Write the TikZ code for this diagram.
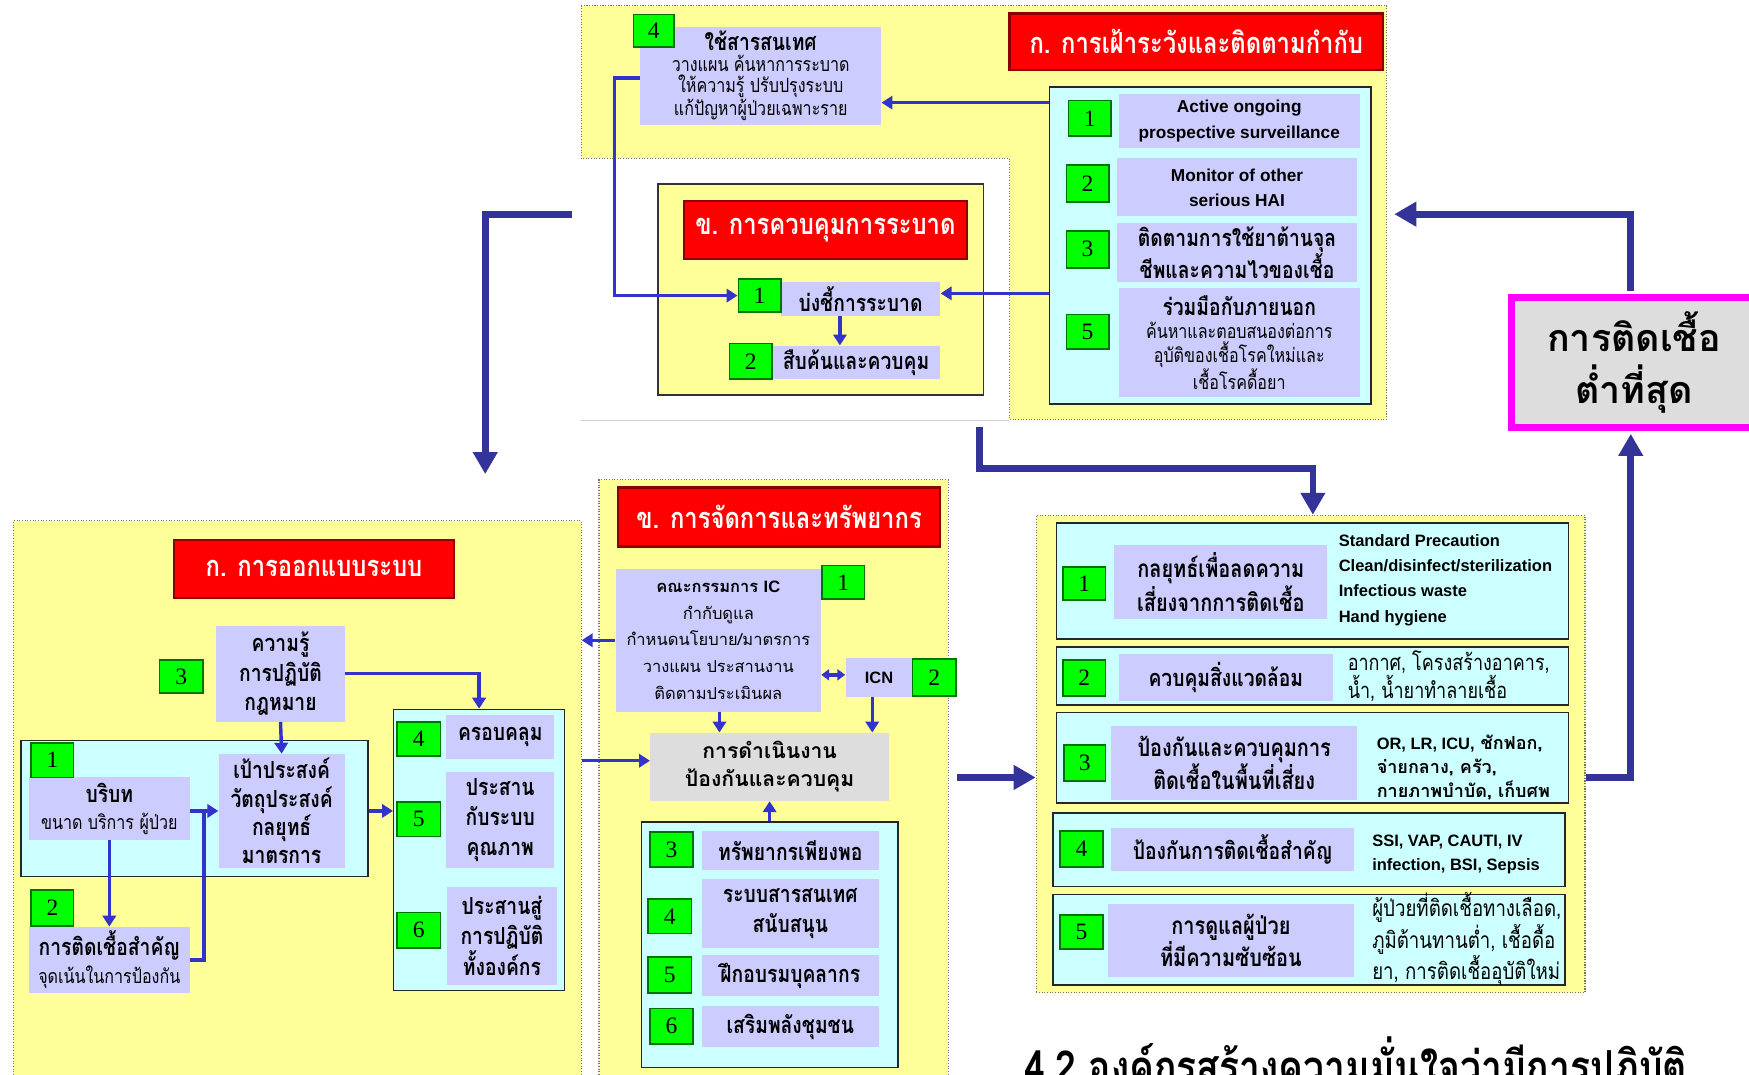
\documentclass[tikz,border=0pt]{standalone}
\usepackage{fontspec}
\setmainfont{Liberation Serif}
\setsansfont{Liberation Sans}
\newfontfamily\thai[Script=Thai,FakeStretch=0.82]{Loma}
\newfontfamily\thaiw[Script=Thai]{Loma}
\usetikzlibrary{arrows.meta,positioning}

\definecolor{pyellow}{HTML}{FFFF99}
\definecolor{pcyan}{HTML}{CCFFFF}
\definecolor{plav}{HTML}{CCCCFF}
\definecolor{pgreen}{HTML}{00FF00}
\definecolor{pred}{HTML}{FF0000}
\definecolor{pblue}{HTML}{3333CC}
\definecolor{pnavy}{HTML}{333399}
\definecolor{pgray}{HTML}{DDDDDD}
\definecolor{pmag}{HTML}{FF00FF}

\begin{document}
\begin{tikzpicture}[
  x=0.025cm, y=-0.025cm,
  cell/.style n args={4}{
    at={({(#1+#3)/2},{(#2+#4)/2})}, anchor=center,
    minimum width={(#3-#1)*0.025cm}, minimum height={(#4-#2)*0.025cm}
  },
  panel/.style={fill=pyellow, draw=black!55, densely dotted, line width=0.7pt, inner sep=0pt},
  cbox/.style={fill=pcyan, draw=black!85, line width=0.9pt, inner sep=0pt},
  lav/.style={
    fill=plav, inner sep=0pt, align=center,
    font=\thai\bfseries\fontsize{15}{19}\selectfont
  },
  lavsub/.style={lav, font=\thai\fontsize{12.5}{15}\selectfont},
  lavlat/.style={lav, font=\sffamily\bfseries\fontsize{11}{16}\selectfont},
  num/.style={
    fill=pgreen, draw=green!45!black, line width=1.1pt, inner sep=0pt,
    font=\rmfamily\fontsize{15}{15}\selectfont
  },
  redt/.style={
    fill=pred, draw=red!55!black, line width=1.5pt, inner sep=0pt,
    text=white, font=\thai\bfseries\fontsize{18.5}{22}\selectfont
  },
  note/.style={anchor=west, align=left, inner sep=0pt},
  conn/.style={-{Triangle[length=7pt,width=8.5pt]}, line width=2.2pt, pblue},
  wire/.style={line width=2.2pt, pblue},
  dconn/.style={{Triangle[length=5pt,width=7pt]}-{Triangle[length=5pt,width=7pt]}, line width=2.2pt, pblue},
  bigarr/.style={-{Triangle[length=14pt,width=15pt]}, line width=4.3pt, pnavy},
]
\useasboundingbox (0,0) rectangle (1568,963);

% surveillance panel (top)
\draw[fill=pyellow, draw=black!55, densely dotted, line width=0.7pt]
  (521,5) -- (1243,5) -- (1243,376) -- (905,376) -- (905,142) -- (521,142) -- cycle;
\draw[black!18, line width=1pt] (521,377) -- (905,377);
\node[redt, cell={905}{12}{1240}{63}] (survT) {ก. การเฝ้าระวังและติดตามกำกับ};
\node[lavsub, cell={574}{24}{790}{112}, font=\thai\fontsize{12.5}{13.5}\selectfont] (info4)
  {{\bfseries\fontsize{15}{15}\selectfont ใช้สารสนเทศ}\\วางแผน ค้นหาการระบาด\\ให้ความรู้ ปรับปรุงระบบ\\แก้ปัญหาผู้ป่วยเฉพาะราย};
\node[num, cell={568}{13}{604}{42}] (info4n) {4};

\node[cbox, cell={941}{78}{1229}{362}] (survbox) {};
\node[lavlat, cell={1003}{84}{1219}{133}] (s1) {Active ongoing\\prospective surveillance};
\node[num, cell={958}{90}{996}{122}] (s1n) {1};
\node[lavlat, cell={1001}{142}{1217}{194}] (s2) {Monitor of other\\serious HAI};
\node[num, cell={956}{148}{994}{181}] (s2n) {2};
\node[lav, cell={1001}{200}{1217}{253}, font=\thai\bfseries\fontsize{15}{16}\selectfont] (s3)
  {ติดตามการใช้ยาต้านจุล\\ชีพและความไวของเชื้อ};
\node[num, cell={956}{207}{994}{240}] (s3n) {3};
\node[lavsub, cell={1003}{258}{1219}{356}] (s5)
  {{\bfseries\fontsize{15}{15}\selectfont ร่วมมือกับภายนอก}\\ค้นหาและตอบสนองต่อการ\\อุบัติของเชื้อโรคใหม่และ\\เชื้อโรคดื้อยา};
\node[num, cell={956}{282}{994}{313}] (s5n) {5};

% outbreak box
\node[fill=pyellow, draw=black!80, line width=0.8pt, inner sep=0pt, cell={590}{165}{882}{354}] (obpanel) {};
\node[redt, cell={613}{180}{867}{232}] (obT) {ข. การควบคุมการระบาด};
\node[lav, cell={700}{253}{843}{283}] (ob1) {บ่งชี้การระบาด};
\node[num, cell={662}{250}{700}{280}] (ob1n) {1};
\node[lav, cell={692}{310}{843}{340}] (ob2) {สืบค้นและควบคุม};
\node[num, cell={654}{308}{692}{340}] (ob2n) {2};

\draw[conn] (survbox.west |- 0,92) -- (info4.east |- 0,92);
\draw[conn] (survbox.west |- 0,263) -- (ob1.east |- 0,263);
\draw[conn] (info4.west |- 0,70) -- (551,70) |- (ob1n.west);
\draw[conn] (ob1.south -| 753,0) -- (ob2.north -| 753,0);

% design panel
\node[panel, cell={12}{467}{521}{990}] (dpanel) {};
\node[redt, cell={156}{484}{407}{536}] (dT) {ก. การออกแบบระบบ};
\node[lav, cell={194}{561}{309}{647}] (d3) {ความรู้\\การปฏิบัติ\\กฎหมาย};
\node[num, cell={143}{592}{182}{621}] (d3n) {3};
\node[cbox, cell={19}{664}{330}{786}] (dbox1) {};
\node[lavsub, cell={26}{697}{170}{753}, font=\thai\fontsize{12.5}{17.5}\selectfont] (d1)
  {{\bfseries\fontsize{15}{15}\selectfont บริบท}\\ขนาด บริการ ผู้ป่วย};
\node[num, cell={28}{666}{66}{697}] (d1n) {1};
\node[lav, cell={196}{676}{309}{778}, font=\thai\bfseries\fontsize{15}{18}\selectfont] (dgoal)
  {เป้าประสงค์\\วัตถุประสงค์\\กลยุทธ์\\มาตรการ};
\node[lavsub, cell={26}{831}{170}{890}, font=\thai\fontsize{12.5}{18}\selectfont] (d2)
  {{\bfseries\fontsize{15}{15}\selectfont การติดเชื้อสำคัญ}\\จุดเน้นในการป้องกัน};
\node[num, cell={28}{798}{66}{830}] (d2n) {2};
\node[cbox, cell={353}{636}{506}{888}] (dbox2) {};
\node[lav, cell={400}{641}{497}{680}] (d4) {ครอบคลุม};
\node[num, cell={356}{647}{395}{678}] (d4n) {4};
\node[lav, cell={400}{692}{497}{778}] (d5) {ประสาน\\กับระบบ\\คุณภาพ};
\node[num, cell={356}{719}{395}{750}] (d5n) {5};
\node[lav, cell={401}{795}{499}{883}] (d6) {ประสานสู่\\การปฏิบัติ\\ทั้งองค์กร};
\node[num, cell={356}{818}{395}{850}] (d6n) {6};

\draw[conn] (d3.south) -- (dgoal.north);
\draw[conn] (d3.east) -| (dbox2.north);
\draw[conn] (d1.south) -- (d2.north);
\draw[conn] (d1.east |- 0,727) -- (dgoal.west |- 0,727);
\draw[wire] (d2.east) -| (183,727);
\draw[conn] (dbox1.east |- 0,727) -- (dbox2.west |- 0,727);

% management panel
\node[panel, cell={537}{430}{850}{990}] (mpanel) {};
\node[redt, cell={554}{437}{843}{490}] (mT) {ข. การจัดการและทรัพยากร};
\node[lav, cell={552}{510}{736}{638}, font=\thaiw\fontsize{10.5}{17}\selectfont] (ic)
  {{\bfseries คณะกรรมการ {\sffamily IC}}\\กำกับดูแล\\กำหนดนโยบาย/มาตรการ\\วางแผน ประสานงาน\\ติดตามประเมินผล};
\node[num, cell={737}{507}{775}{537}] (ic1n) {1};
\node[lav, cell={758}{590}{818}{625}, font=\sffamily\bfseries\fontsize{10.5}{12}\selectfont] (icn) {ICN};
\node[num, cell={818}{591}{857}{624}] (icn2n) {2};
\node[fill=pgray, inner sep=0pt, align=center, cell={583}{657}{797}{718},
  font=\thaiw\bfseries\fontsize{13.5}{18}\selectfont] (ops) {การดำเนินงาน\\ป้องกันและควบคุม};
\node[cbox, cell={575}{737}{805}{957}] (mbox) {};
\node[lav, cell={629}{745}{788}{780}] (m3) {ทรัพยากรเพียงพอ};
\node[num, cell={583}{746}{621}{777}] (m3n) {3};
\node[lav, cell={629}{788}{788}{850}] (m4) {ระบบสารสนเทศ\\สนับสนุน};
\node[num, cell={581}{806}{620}{837}] (m4n) {4};
\node[lav, cell={629}{856}{788}{893}] (m5) {ฝึกอบรมบุคลากร};
\node[num, cell={581}{858}{620}{890}] (m5n) {5};
\node[lav, cell={629}{902}{788}{939}] (m6) {เสริมพลังชุมชน};
\node[num, cell={583}{904}{621}{936}] (m6n) {6};

\draw[conn] (ic.west) -- (dpanel.east |- ic.west);
\draw[dconn] (ic.east |- 0,605) -- (icn.west |- 0,605);
\draw[conn] (ic.south -| 645,0) -- (ops.north -| 645,0);
\draw[conn] (icn.south -| 782,0) -- (ops.north -| 782,0);
\draw[conn] (mbox.north) -- (ops.south -| mbox.north);
\draw[conn] (dpanel.east |- 0,682) -- (ops.west |- 0,682);

% prevention panel (right)
\node[panel, cell={929}{462}{1421}{890}] (rpanel) {};
\node[cbox, cell={947}{469}{1406}{573}] (r1box) {};
\node[lav, cell={999}{489}{1190}{555}, font=\thai\bfseries\fontsize{15.5}{20}\selectfont] (r1)
  {กลยุทธ์เพื่อลดความ\\เสี่ยงจากการติดเชื้อ};
\node[num, cell={953}{508}{991}{538}] (r1n) {1};
\node[note, font=\sffamily\bfseries\fontsize{10.5}{16.2}\selectfont] (r1x) at (1200,520)
  {Standard Precaution\\Clean/disinfect/sterilization\\Infectious waste\\Hand hygiene};
\node[cbox, cell={947}{580}{1406}{632}] (r2box) {};
\node[lav, cell={1003}{586}{1195}{628}] (r2) {ควบคุมสิ่งแวดล้อม};
\node[num, cell={953}{592}{991}{624}] (r2n) {2};
\node[note, font=\thai\fontsize{14}{15}\selectfont] (r2x) at (1208,606)
  {อากาศ, โครงสร้างอาคาร,\\น้ำ, น้ำยาทำลายเชื้อ};
\node[cbox, cell={947}{639}{1406}{720}] (r3box) {};
\node[lav, cell={996}{651}{1217}{717}, font=\thai\bfseries\fontsize{15.5}{20}\selectfont] (r3)
  {ป้องกันและควบคุมการ\\ติดเชื้อในพื้นที่เสี่ยง};
\node[num, cell={954}{668}{991}{700}] (r3n) {3};
\node[note, font=\thaiw\bfseries\fontsize{11.5}{15.5}\selectfont] (r3x) at (1234,688)
  {{\sffamily\fontsize{10.5}{15.5}\selectfont OR, LR, ICU,} ชักฟอก,\\จ่ายกลาง, ครัว,\\กายภาพบำบัด, เก็บศพ};
\node[cbox, cell={944}{729}{1403}{795}] (r4box) {};
\node[lav, cell={996}{742}{1214}{781}] (r4) {ป้องกันการติดเชื้อสำคัญ};
\node[num, cell={950}{745}{989}{777}] (r4n) {4};
\node[note, font=\sffamily\bfseries\fontsize{10.5}{15}\selectfont] (r4x) at (1230,766)
  {SSI, VAP, CAUTI, IV\\infection, BSI, Sepsis};
\node[cbox, cell={944}{802}{1403}{883}] (r5box) {};
\node[lav, cell={993}{810}{1214}{876}, font=\thai\bfseries\fontsize{15.5}{19}\selectfont] (r5)
  {การดูแลผู้ป่วย\\ที่มีความซับซ้อน};
\node[num, cell={950}{820}{989}{851}] (r5n) {5};
\node[note, font=\thai\fontsize{14.5}{15}\selectfont] (r5x) at (1230,842)
  {ผู้ป่วยที่ติดเชื้อทางเลือด,\\ภูมิต้านทานต่ำ, เชื้อดื้อ\\ยา, การติดเชื้ออุบัติใหม่};

% outcome
\node[fill=pgray, draw=pmag, line width=4.5pt, inner sep=0pt, align=center,
  cell={1355}{267}{1575}{383}, font=\thaiw\bfseries\fontsize{24}{33}\selectfont] (result)
  {การติดเชื้อ\\ต่ำที่สุด};

\node[anchor=base west, inner sep=0pt, font=\thai\bfseries\fontsize{29}{29}\selectfont] (title)
  at (918,971) {4.2 องค์กรสร้างความมั่นใจว่ามีการปฏิบัติ};

% big flow arrows
\coordinate (a1s) at (513,192);
\coordinate (a1e) at (435,425);
\coordinate (a2s) at (878,383);
\coordinate (a3s) at (858,697);
\coordinate (a4e) at (1250,192);
\draw[bigarr] (a1s) -| (a1e);
\draw[bigarr] (a2s) |- (1177,420) -- (rpanel.north -| 1177,0);
\draw[bigarr] (a3s) -- (rpanel.west |- a3s);
\draw[bigarr, shorten >=2pt] (rpanel.east |- a3s) -| (1462,0 |- result.south);
\draw[bigarr, shorten <=2pt] (1462,0 |- result.north) |- (a4e);
\end{tikzpicture}
\end{document}
